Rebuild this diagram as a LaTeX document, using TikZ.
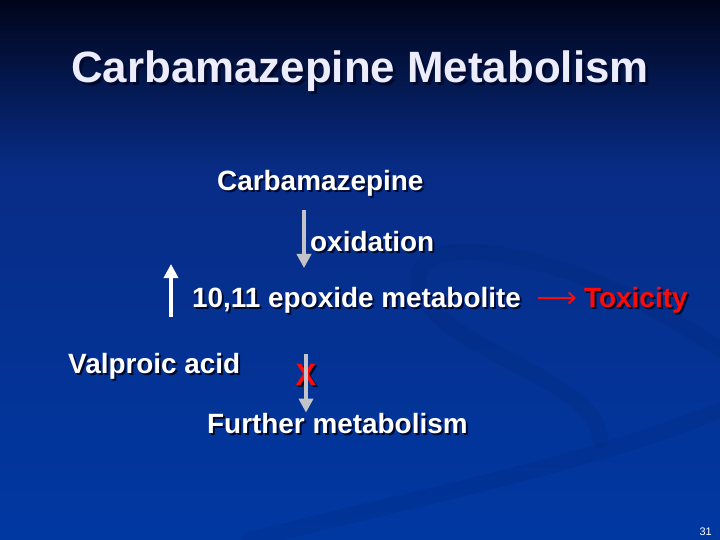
\documentclass[tikz,border=0pt]{standalone}
\usepackage{fontspec}
\setmainfont{Liberation Sans}
\usetikzlibrary{arrows.meta, positioning}
\usepackage{xcolor}

\definecolor{slidetop}{HTML}{00051A}
\definecolor{slidemid}{HTML}{082C86}
\definecolor{slidebot}{HTML}{0038A2}
\definecolor{swooshblue}{HTML}{00246E}
\definecolor{titlewhite}{HTML}{ECECFA}
\definecolor{shadowcol}{HTML}{000A30}
\definecolor{toxred}{HTML}{FF0A0A}
\definecolor{arrowgray}{HTML}{C4C4C8}

\newcommand\shadowed[2][2bp]{\leavevmode\rlap{\kern#1\raisebox{-#1}{\color{shadowcol}#2}}#2}

\begin{document}
\begin{tikzpicture}[x=1bp, y=-1bp,
  slidetext/.style={inner sep=0pt, anchor=base west, text=white,
    font=\bfseries\fontsize{28}{33}\selectfont},
  titletext/.style={inner sep=0pt, anchor=base, text=titlewhite,
    font=\bfseries\fontsize{44}{50}\selectfont},
  grayarrow/.style={draw=arrowgray, line width=4bp, -{Triangle[length=14bp, width=14bp]}},
  whitearrow/.style={draw=white, line width=4.5bp, -{Triangle[length=14bp, width=14bp]}},
  redarrow/.style={draw=toxred, line width=1.8bp, -{Straight Barb[length=6bp, width=11bp]}},
  swoosh/.style={draw=swooshblue, opacity=0.18, line width=16bp, line cap=round}]
\useasboundingbox (0,0) rectangle (720,540);

% Background
\shade[top color=slidetop, bottom color=slidemid] (0,0) rectangle (720,170);
\shade[top color=slidemid, bottom color=slidebot] (0,170) rectangle (720,540);
\draw[swoosh] (720,350) .. controls (580,250) and (400,220) .. (420,290)
  .. controls (440,350) and (600,380) .. (600,440);
\draw[swoosh] (250,540) .. controls (450,490) and (600,460) .. (720,410);

% Title
\node[titletext] (title) at (360,83) {\shadowed[3bp]{Carbamazepine Metabolism}};

% Pathway labels
\node[slidetext] (carb) at (217,191) {\shadowed{Carbamazepine}};
\node[slidetext] (ox) at (310,252) {\shadowed{oxidation}};
\node[slidetext] (epox) at (192,307) {\shadowed{10,11 epoxide metabolite}};
\node[slidetext, text=toxred] (tox) at (584,307) {\shadowed{Toxicity}};
\node[slidetext] (valp) at (68,373) {\shadowed{Valproic acid}};
\node[slidetext] (fur) at (207,433) {\shadowed{Further metabolism}};
\node[slidetext, anchor=base, text=toxred, font=\bfseries\fontsize{31}{36}\selectfont]
  (block) at (306,385) {\shadowed{X}};

% Page number
\node[inner sep=0pt, anchor=base east, text=white, font=\fontsize{11}{13}\selectfont]
  (num) at (712,535) {31};

% Arrows
\coordinate (oxtop) at (304,210);
\coordinate (oxtip) at (304,268);
\draw[grayarrow] (oxtop) -- (oxtip);

\coordinate (uptail) at (171,317);
\coordinate (uptip) at (171,264);
\draw[whitearrow] (uptail) -- (uptip);

\coordinate (toxline) at (0,298);
\draw[redarrow] ([xshift=17bp]epox.east |- toxline) -- ([xshift=-8bp]tox.west |- toxline);

\coordinate (furtop) at (306,354);
\draw[grayarrow] (furtop) -- (furtop |- fur.north);
\end{tikzpicture}
\end{document}
